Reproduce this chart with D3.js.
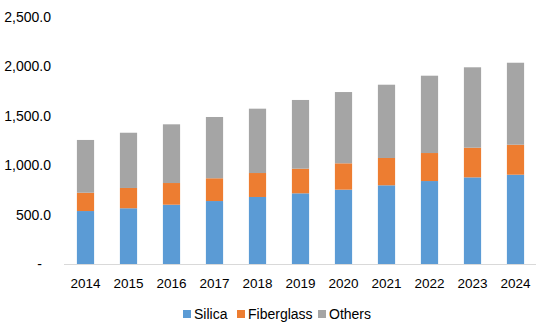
<!DOCTYPE html>
<html><head><meta charset="utf-8">
<script src="https://cdn.jsdelivr.net/npm/d3@7"></script>
<style>body{margin:0;background:#fff}svg{display:block}text{font-family:"Liberation Sans",Arial,sans-serif;fill:#000}</style>
</head><body><svg id="c" width="536" height="336"></svg>
<script>
const years = ["2014","2015","2016","2017","2018","2019","2020","2021","2022","2023","2024"];
const silica = [540,568,604,641,682,719,756,800,843,880,907];
const fiberglass = [185,205,219,230,242,249,266,276,283,300,303];
const others = [533,558,593,619,650,694,720,740,781,812,828];
const seriesNames = ["Silica","Fiberglass","Others"];
const colors = ["#5B9BD5","#ED7D31","#A5A5A5"];
const yTicks = [0,500,1000,1500,2000,2500];

const svg = d3.select("#c");
const x = d3.scaleBand().domain(years).range([64,537]).paddingInner(0.6).paddingOuter(0.3);
const y = d3.scaleLinear().domain([0,2500]).range([264.5,17]);

const rows = years.map((yr,i)=>({year:yr,Silica:silica[i],Fiberglass:fiberglass[i],Others:others[i]}));
const stack = d3.stack().keys(seriesNames)(rows);

svg.append("g").selectAll("g").data(stack).join("g")
  .attr("fill",(d,i)=>colors[i])
  .selectAll("rect").data(d=>d).join("rect")
  .attr("x",d=>x(d.data.year))
  .attr("width",x.bandwidth())
  .attr("y",d=>y(d[1]))
  .attr("height",d=>y(d[0])-y(d[1]));

// x axis line
svg.append("line").attr("x1",64).attr("x2",536).attr("y1",y(0)).attr("y2",y(0))
  .attr("stroke","#D9D9D9").attr("stroke-width",1.2);

// y labels
const fmt = v => v===0 ? "-" : d3.format(",.1f")(v);
svg.append("g").selectAll("text").data(yTicks).join("text")
  .attr("x",d=>d===0?42:51).attr("y",d=>y(d)).attr("dy","0.35em")
  .attr("text-anchor","end").style("font-size","14px").text(fmt);

// x labels
svg.append("g").selectAll("text").data(years).join("text")
  .attr("x",d=>x(d)+x.bandwidth()/2).attr("y",288)
  .attr("text-anchor","middle").style("font-size","13.5px").text(d=>d);

// legend
const legX = [183,237,318];
const lg = svg.append("g").selectAll("g").data(seriesNames).join("g")
  .attr("transform",(d,i)=>`translate(${legX[i]},314)`);
lg.append("rect").attr("x",0).attr("y",-4).attr("width",8).attr("height",8).attr("fill",(d,i)=>colors[i]);
lg.append("text").attr("x",11).attr("y",0).attr("dy","0.35em").style("font-size","14px").text(d=>d);
</script></body></html>
